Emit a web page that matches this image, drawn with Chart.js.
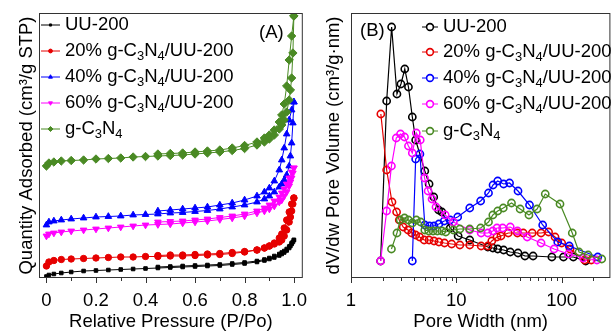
<!DOCTYPE html>
<html>
<head>
<meta charset="utf-8">
<script src="https://cdn.jsdelivr.net/npm/chart.js@4.4.0/dist/chart.umd.min.js"></script>
<style>
html, body { margin: 0; padding: 0; background: #fff; }
#wrap { position: relative; width: 616px; height: 333px; }
#chartA { position: absolute; left: 0; top: 0; }
#chartB { position: absolute; left: 308px; top: 0; }
</style>
</head>
<body>
<div id="wrap">
  <canvas id="chartA" width="308" height="333"></canvas>
  <canvas id="chartB" width="308" height="333"></canvas>
</div>
<script>
// ---- (A) isotermas N2: pressao relativa e quantidade adsorvida (unidades arbitrarias, curvas deslocadas)
const pAds = [0.0, 0.01, 0.03, 0.06, 0.1, 0.15, 0.2, 0.25, 0.3, 0.35, 0.4, 0.45, 0.5, 0.55, 0.6, 0.65,
              0.7, 0.75, 0.8, 0.85, 0.88, 0.9, 0.92, 0.94, 0.95, 0.96, 0.97, 0.98, 0.985, 0.99, 0.995, 0.999];
const pDes = [0.999, 0.99, 0.98, 0.97, 0.96, 0.95, 0.94, 0.92, 0.9, 0.88, 0.85, 0.8, 0.75, 0.7, 0.65,
              0.6, 0.55, 0.5, 0.45];

const uuAds = [1.5, 3, 4, 5, 6, 7, 7.5, 8, 8.5, 9, 9.5, 10, 10.5, 11, 11.5, 12,
               12.5, 13.5, 14.5, 16, 17.5, 19, 20.5, 22.5, 24, 25.5, 27.5, 30, 32, 34, 36, 38];
const uuDes = [38, 35, 31.5, 29, 27, 25.5, 24, 22, 20, 18.5, 17, 15.5, 14.5, 13.5, 13, 12.5, 12, 11.5, 11];

const c20Ads = [12, 16, 17.5, 18.5, 19, 19.5, 20, 20.5, 21, 21, 21.5, 21.5, 22, 22, 22.5, 23,
                23.5, 24.5, 26, 28, 30, 32, 34, 36, 38, 42, 48, 56, 61, 67, 74, 80];
const c20Des = [80, 74, 66, 58, 50, 44, 40, 35, 32, 30, 28, 26.5, 25.5, 24.5, 24, 23.5, 23, 23, 22.5];

const c40Ads = [53, 56, 57, 58, 59, 60, 61, 61.5, 62, 63, 63.5, 64, 65, 65.5, 66.5, 67.5,
                69, 71, 73, 76, 79, 82, 86, 91, 94, 98, 103, 112, 122, 135, 155, 176];
const c40Des = [176, 168, 158, 144, 130, 118, 108, 97, 90, 86, 82, 78, 75, 73, 71, 70, 69, 68, 67];

const c60Ads = [42, 44, 45, 46, 47, 48, 49, 50, 51, 52, 53, 53.5, 54, 55, 56, 57,
                58.5, 60, 62, 65, 67, 69, 72, 76, 78, 82, 86, 92, 96, 100, 105, 110];
const c60Des = [110, 106, 100, 94, 89, 85, 81, 77, 73, 70, 67, 64, 62, 60.5, 59, 58, 57, 56.5, 56];

const cnAds = [112, 115, 116, 117, 117.5, 118, 119, 119.5, 120, 121, 121.5, 122, 122.5, 123, 124, 125,
               126, 127.5, 129.5, 133, 136, 139, 143, 149, 153, 158, 166, 178, 188, 200, 225, 262];
const cnDes = [262, 242, 218, 192, 174, 163, 156, 148, 143, 140, 136, 132.5, 130, 128, 127, 126, 125, 124.5, 124];

const ticksA = [0, 0.2, 0.4, 0.6, 0.8, 1.0];
const minorA = [0.1, 0.3, 0.5, 0.7, 0.9];

// ---- (B) distribuicao de poros: largura (nm) e dV/dw (unidades arbitrarias)
const uuWidth = [1.91, 2.18, 2.43, 2.73, 2.98, 3.24, 3.51, 3.82, 4.11, 5.02, 5.51, 6.10, 6.79, 7.29, 8.74,
                 10.4, 13.4, 19.9, 22.2, 24.7, 28.1, 32.5, 38.5, 44.8, 53.5, 80.7, 104, 129, 169];
const uuDv = [17, 177, 251, 184, 194, 209, 191, 161, 138, 107, 94, 81, 68, 66, 50,
              42, 38, 31, 30, 29, 28, 26, 25, 22, 22, 21, 21, 21, 17];

const c20Width = [1.92, 2.18, 2.45, 2.71, 2.87, 3.13, 3.48, 3.77, 4.11, 4.48, 4.95, 5.51, 6.14, 6.83, 7.72,
                  9.03, 10.8, 13.4, 17.2, 19.9, 21.7, 24.3, 26.5, 31.1, 38.0, 43.2, 52.5, 63.7, 75.1, 86.5,
                  100, 120, 165, 191];
const c20Dv = [164, 108, 76, 66, 58, 51, 48, 45, 43, 41, 38, 38, 37, 36, 35,
               34, 33, 33, 32, 32, 37, 41, 42, 45, 45, 45, 45, 45, 46, 41,
               35, 29, 18, 18];

const c40Width = [3.82, 4.11, 4.51, 5.02, 5.56, 6.14, 6.83, 7.67, 8.74, 10.3, 13.4, 17.0, 20.2, 22.3, 24.7,
                  28.1, 32.0, 38.5, 49.5, 66.0, 91.8, 118, 220];
const c40Dv = [17, 119, 124, 53, 52, 52, 54, 57, 58, 61, 70, 77, 85, 93, 97,
               94, 95, 87, 73, 53, 36, 32, 21];

const c60Width = [1.91, 2.18, 2.42, 2.69, 2.95, 3.22, 3.51, 3.82, 4.17, 4.54, 4.99, 5.39, 5.88, 6.41, 7.84,
                  9.37, 13.4, 17.2, 19.9, 22.2, 24.3, 27.5, 32.5, 38.0, 47.1, 63.7, 84.7, 116, 160, 216];
const c60Dv = [17, 67, 112, 140, 144, 141, 132, 125, 145, 138, 100, 87, 79, 71, 63,
               56, 48, 45, 45, 47, 50, 50, 51, 47, 41, 35, 29, 24, 20, 18];

const cnWidth = [2.42, 2.73, 2.93, 3.22, 3.51, 3.82, 4.17, 4.58, 5.02, 5.47, 6.01, 6.60, 7.29, 7.94, 9.37,
                 10.8, 13.4, 17.0, 20.2, 22.2, 24.7, 27.9, 33.4, 40.3, 48.9, 58.4, 69.8, 96.4, 126, 146,
                 178, 240];
const cnDv = [29, 45, 58, 60, 58, 55, 58, 56, 48, 47, 47, 47, 47, 46, 48,
              49, 49, 50, 56, 63, 67, 70, 75, 69, 63, 69, 84, 74, 45, 26,
              23, 19];

const ticksB = [1, 10, 100];
const minorB = [2, 3, 4, 5, 6, 7, 8, 9, 20, 30, 40, 50, 60, 70, 80, 90, 200];

const nomes = ['UU-200', '20% g-C_3N_4/UU-200', '40% g-C_3N_4/UU-200', '60% g-C_3N_4/UU-200', 'g-C_3N_4'];
const cores = ['#000000', '#e60000', '#0000ff', '#ff00ff', '#4a8a24'];

const FONT = "'Liberation Sans', Arial, sans-serif";
const TAM = 18.5;

// junta x e y em pontos {x, y}
function pares(xs, ys) {
    return xs.map((x, i) => ({ x: x, y: ys[i] }));
}

// texto com subscritos (_3 -> 3 subscrito)
function textoRico(ctx, txt, x, y, size) {
    txt.split(/(_\d)/).forEach(p => {
        if (!p) return;
        if (p[0] === '_') {
            ctx.font = (size * 0.7) + 'px ' + FONT;
            ctx.fillText(p.slice(1), x, y + size * 0.3);
            x += ctx.measureText(p.slice(1)).width;
        } else {
            ctx.font = size + 'px ' + FONT;
            ctx.fillText(p, x, y);
            x += ctx.measureText(p).width;
        }
    });
}

// moldura, tracinhos, legenda e rotulo do painel
const decoracao = {
    id: 'decoracao',
    afterDraw(chart, args, opts) {
        const ctx = chart.ctx;
        const a = chart.chartArea;
        const sx = chart.scales.x;
        ctx.save();
        ctx.strokeStyle = '#333';
        ctx.lineWidth = 1;
        ctx.strokeRect(a.left + 0.5, a.top + 0.5, a.right - a.left - 1, a.bottom - a.top - 1);

        ctx.beginPath();
        opts.major.forEach(v => {
            const x = Math.round(sx.getPixelForValue(v)) + 0.5;
            ctx.moveTo(x, a.bottom);
            ctx.lineTo(x, a.bottom + 5);
        });
        opts.minor.forEach(v => {
            const x = Math.round(sx.getPixelForValue(v)) + 0.5;
            ctx.moveTo(x, a.bottom);
            ctx.lineTo(x, a.bottom + 3);
        });
        ctx.stroke();

        // legenda
        ctx.textBaseline = 'middle';
        ctx.textAlign = 'left';
        opts.legenda.forEach((item, i) => {
            const y = opts.legY[i];
            ctx.strokeStyle = item.cor;
            ctx.lineWidth = 1;
            ctx.beginPath();
            ctx.moveTo(opts.legX, y);
            ctx.lineTo(opts.legX + opts.legLen, y);
            ctx.stroke();
            ctx.fillStyle = item.cheio ? item.cor : '#fff';
            ctx.lineWidth = item.borda;
            Chart.helpers.drawPoint(ctx, {
                pointStyle: item.estilo, radius: item.raio, rotation: item.rot || 0, borderWidth: item.borda
            }, opts.legX + opts.legLen / 2, y);
            ctx.fillStyle = '#000';
            textoRico(ctx, item.nome, opts.legX + opts.legLen + 5, y, TAM);
        });

        ctx.fillStyle = '#000';
        ctx.font = TAM + 'px ' + FONT;
        ctx.fillText(opts.painel, opts.painelX, opts.painelY);
        ctx.restore();
    }
};

function eixoX(titulo, extra) {
    return Object.assign({
        ticks: {
            color: '#000', font: { size: TAM, family: FONT }, padding: 4,
            maxRotation: 0, autoSkip: false
        },
        grid: { display: false },
        border: { display: false },
        title: { display: true, text: titulo, color: '#000', font: { size: TAM, family: FONT }, padding: { top: 0, bottom: 0 } },
        afterFit: s => { s.height = 55; s.paddingLeft = 0; s.paddingRight = 0; }
    }, extra);
}

function eixoY(titulo, largura, pad) {
    return {
        type: 'linear', min: 0, max: 265,
        ticks: { display: false },
        grid: { display: false },
        border: { display: false },
        title: { display: true, text: titulo, color: '#000', font: { size: TAM, family: FONT }, padding: { top: pad, bottom: 0 } },
        afterFit: s => { s.width = largura; s.paddingTop = 0; s.paddingBottom = 0; }
    };
}

// ---------------- painel A ----------------
const estilosA = [
    { estilo: 'rect', raio: 2.5, rot: 0 },
    { estilo: 'circle', raio: 3.2, rot: 0 },
    { estilo: 'triangle', raio: 3.8, rot: 0 },
    { estilo: 'triangle', raio: 3.8, rot: 180 },
    { estilo: 'rectRot', raio: 4.2, rot: 0 }
];
const adsA = [uuAds, c20Ads, c40Ads, c60Ads, cnAds];
const desA = [uuDes, c20Des, c40Des, c60Des, cnDes];

const datasetsA = [];
adsA.forEach((serie, i) => {
    [pares(pAds, serie), pares(pDes, desA[i])].forEach(dados => {
        datasetsA.push({
            data: dados,
            borderColor: cores[i],
            backgroundColor: cores[i],
            pointBackgroundColor: cores[i],
            borderWidth: 1,
            pointStyle: estilosA[i].estilo,
            pointRadius: estilosA[i].raio,
            pointRotation: estilosA[i].rot,
            pointBorderWidth: 1,
            order: 5 - i
        });
    });
});

new Chart(document.getElementById('chartA'), {
    type: 'line',
    data: { datasets: datasetsA },
    options: {
        responsive: false,
        animation: false,
        layout: { padding: { top: 13, right: 3, left: 0, bottom: 0 } },
        plugins: {
            legend: { display: false },
            tooltip: { enabled: false },
            decoracao: {
                major: ticksA, minor: minorA,
                legX: 41, legLen: 19, legY: [25, 51, 77, 103, 129],
                legenda: nomes.map((n, i) => ({
                    nome: n, cor: cores[i], estilo: estilosA[i].estilo,
                    raio: estilosA[i].raio * 0.6, rot: estilosA[i].rot, borda: 1, cheio: true
                })),
                painel: '(A)', painelX: 259, painelY: 33
            }
        },
        scales: {
            x: eixoX('Relative Pressure (P/Po)', {
                type: 'linear', min: -0.03, max: 1.035,
                afterBuildTicks: s => { s.ticks = ticksA.map(v => ({ value: v })); }
            }),
            y: eixoY('Quantity Adsorbed (cm³/g STP)', 39, 16)
        }
    },
    plugins: [decoracao]
});

// ---------------- painel B ----------------
const larguras = [uuWidth, c20Width, c40Width, c60Width, cnWidth];
const volumes = [uuDv, c20Dv, c40Dv, c60Dv, cnDv];

const datasetsB = larguras.map((xs, i) => ({
    data: pares(xs, volumes[i]),
    borderColor: cores[i],
    backgroundColor: 'rgba(255,255,255,0)',
    pointBackgroundColor: 'rgba(255,255,255,0)',
    pointBorderColor: cores[i],
    borderWidth: 1.2,
    pointStyle: 'circle',
    pointRadius: 3.6,
    pointBorderWidth: 1.6,
    order: 5 - i
}));

new Chart(document.getElementById('chartB'), {
    type: 'line',
    data: { datasets: datasetsB },
    options: {
        responsive: false,
        animation: false,
        layout: { padding: { top: 13, right: 1, left: 0, bottom: 0 } },
        plugins: {
            legend: { display: false },
            tooltip: { enabled: false },
            decoracao: {
                major: ticksB, minor: minorB,
                legX: 114, legLen: 16, legY: [27, 52, 78, 104, 131],
                legenda: nomes.map((n, i) => ({
                    nome: n, cor: cores[i], estilo: 'circle', raio: 3.4, rot: 0, borda: 1.6, cheio: false
                })),
                painel: '(B)', painelX: 52, painelY: 31
            }
        },
        scales: {
            x: eixoX('Pore Width (nm)', {
                type: 'logarithmic', min: 1, max: 290,
                afterBuildTicks: s => { s.ticks = ticksB.map(v => ({ value: v })); },
                ticks: {
                    color: '#000', font: { size: TAM, family: FONT }, padding: 4,
                    maxRotation: 0, autoSkip: false, callback: v => String(v)
                }
            }),
            y: eixoY('dV/dw Pore Volume (cm³/g·nm)', 43, 15)
        }
    },
    plugins: [decoracao]
});
</script>
</body>
</html>
